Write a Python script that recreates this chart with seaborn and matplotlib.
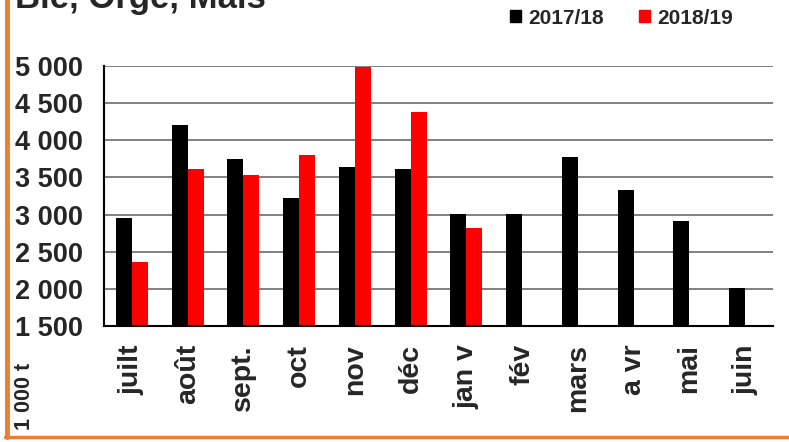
import numpy as np
import pandas as pd
import matplotlib
matplotlib.use("Agg")
import matplotlib.pyplot as plt
from matplotlib.lines import Line2D
import seaborn as sns

# monthly volumes, 1 000 t
months = ["juilt", "août", "sept.", "oct", "nov", "déc", "jan v", "fév", "mars", "a vr", "mai", "juin"]
seasons = ["2017/18", "2018/19"]
vals_1718 = [2955, 4200, 3745, 3220, 3635, 3615, 3010, 3010, 3770, 3325, 2910, 2005]
vals_1819 = [2355, 3610, 3535, 3800, 4985, 4380, 2825, np.nan, np.nan, np.nan, np.nan, np.nan]
colors = ["#000000", "#FF0000"]
title = "Blé, Orge, Maïs"
unit = "1 000 t"
yticks = [1500, 2000, 2500, 3000, 3500, 4000, 4500, 5000]

df = pd.DataFrame({
    "mois": months * 2,
    "saison": [seasons[0]] * 12 + [seasons[1]] * 12,
    "valeur": vals_1718 + vals_1819,
})

sns.set_style("white")
plt.rcParams["font.family"] = ["Liberation Sans", "DejaVu Sans"]
plt.rcParams["font.weight"] = "bold"

W, H = 789, 442
fig = plt.figure(figsize=(W / 100, H / 100), dpi=100)
ax = fig.add_axes([104 / W, 1 - 326 / H, (773 - 104) / W, (326 - 66) / H])

sns.barplot(data=df, x="mois", y="valeur", hue="saison", order=months,
            hue_order=seasons, palette=colors, width=0.57, errorbar=None,
            linewidth=0, saturation=1, ax=ax)
ax.get_legend().remove()

ax.set_ylim(1500, 5000)
ax.set_xlim(-0.5, len(months) - 0.5)
ax.set_yticks(yticks)
ax.set_yticklabels([f"{v:,}".replace(",", " ") for v in yticks], fontsize=19.5, fontweight="bold")
ax.yaxis.grid(True, color="#808080", linewidth=1.4)
ax.set_axisbelow(True)
ax.tick_params(axis="y", direction="out", length=5, width=1.3, color="black", pad=10)

ax.set_xticks(range(len(months)))
ax.set_xticklabels(months, rotation=90, fontsize=20.5, fontweight="bold", va="top", ha="center")
ax.set_xticks(np.arange(-0.5, len(months)), minor=True)
ax.tick_params(axis="x", which="major", length=0, pad=13)
ax.tick_params(axis="x", which="minor", direction="out", length=5, width=1.3, color="black")
ax.set_xlabel("")
ax.set_ylabel("")

for s in ["top", "right"]:
    ax.spines[s].set_visible(False)
for s in ["left", "bottom"]:
    ax.spines[s].set_color("black")
    ax.spines[s].set_linewidth(1.5)

# title, partly cut at the top like the source
fig.text(15 / W, 1 - 8 / H, title, fontsize=25, fontweight="bold", va="baseline", ha="left")
fig.text(25 / W, 1 - 396 / H, unit, fontsize=15.5, fontweight="bold", rotation=90,
         va="center", ha="center")

handles = [plt.Rectangle((0, 0), 1, 1, color=c) for c in colors]
fig.legend(handles, seasons, loc="center left", bbox_to_anchor=(510 / W, 1 - 18 / H),
           ncol=2, frameon=False, borderpad=0, borderaxespad=0,
           handlelength=0.53, handleheight=0.53, handletextpad=0.34,
           columnspacing=1.68, prop={"size": 15, "weight": "bold"})

# orange frame on the left and bottom
orange = "#ED7D31"
fig.add_artist(Line2D([7 / W, 7 / W], [1 - 437 / H, 1], transform=fig.transFigure,
                      color=orange, linewidth=3.5))
fig.add_artist(Line2D([5 / W, 1], [1 - 437 / H, 1 - 437 / H], transform=fig.transFigure,
                      color=orange, linewidth=2.5))

fig.savefig("out.png", dpi=100, facecolor="white")
